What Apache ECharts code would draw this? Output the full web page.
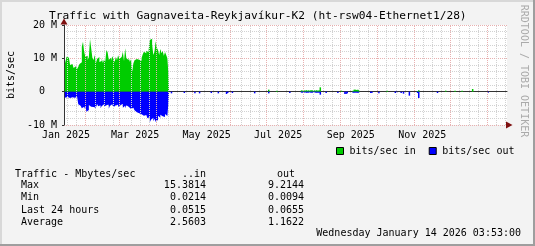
<!DOCTYPE html>
<html><head><meta charset="utf-8">
<script src="https://cdn.jsdelivr.net/npm/echarts@6/dist/echarts.min.js"></script>
<style>html,body{margin:0;padding:0;background:#f3f3f3}#c{width:535px;height:246px}</style>
</head><body><div id="c"></div><script>
const FONT = '"DejaVu Sans Mono", monospace';

// x unit: days since 2025-01-01
const denseStartDay = -1;
const inMbps = [8.3, 8.5, 10.5, 10.2, 9.8, 8.0, 8.3, 8.6, 7.1, 7.6, 8.0, 6.8, 7.5, 8.3, 8.8, 13.5,
  15.0, 12.0, 10.5, 10.8, 9.5, 10.3, 15.8, 13.0, 10.2, 9.5, 11.0, 8.5, 9.8, 10.4, 8.9,
  9.2, 10.0, 8.6, 9.7, 9.0, 12.5, 11.8, 9.6, 10.2, 9.3, 10.6, 9.8, 8.9, 10.4, 9.5, 10.9, 9.8,
  9.6, 10.4, 12.0, 9.2, 13.0, 10.0, 9.5, 10.2, 9.0, 9.7, 6.0, 8.5,
  9.4, 9.8, 9.2, 9.6, 9.9, 9.3, 10.1, 11.2, 12.0, 11.5, 12.3, 11.8, 12.6,
  15.5, 15.9, 14.2, 11.0, 12.0, 15.1, 13.2, 12.5, 11.0, 12.8, 11.5, 12.2, 10.8, 11.9, 11.0, 10.0, 5.0];
const outMbps = [-1.8, -2.0, -1.6, -2.2, -1.9, -2.0, -1.7, -1.5, -1.8, -2.1, -1.6, -1.9,
  -3.8, -4.2, -3.6, -5.0, -4.5,
  -5.2, -4.3, -6.0, -5.5, -4.0,
  -4.5, -3.9, -4.6, -4.0, -4.8, -4.2, -3.7, -4.4, -4.1, -5.0, -4.3, -3.8, -4.6, -4.0, -4.5, -3.9,
  -5.1, -4.2, -4.4, -3.8, -4.7, -4.1, -4.3, -3.9, -4.6, -4.0,
  -4.4, -3.7, -4.8, -4.2, -5.0, -4.1, -3.9, -4.5, -4.3, -5.2, -4.8,
  -5.0, -5.6, -6.2, -5.8, -6.5, -6.0,
  -6.8, -6.3, -7.2, -6.6, -7.0, -7.5,
  -8.0, -7.6, -9.2, -8.4, -7.8, -8.9, -8.1, -9.0, -8.5,
  -7.2, -7.8, -6.9, -7.4, -7.0, -7.6, -6.7, -7.3, -6.8, -3.0];
const sparseDay = [90, 101, 110, 114, 124, 130, 137, 138, 142, 161, 173, 180, 191,
  201, 202, 203, 204, 205, 206, 207, 208, 209, 210, 211, 212, 213, 214, 215, 216, 217,
  222, 232, 235, 238, 239, 240, 245, 246, 247, 248, 249, 250, 260, 261, 267, 274,
  281, 282, 286, 288, 293, 300, 301, 317, 324, 332, 338, 347, 360];
const sparseIn = [0, 0, 0, 0, 0, 0, 0, 0, 0, 0, 0.6, 0.3, 0,
  0.4, 0.3, 0.4, 0.3, 0.4, 0.3, 0.4, 0.3, 0.4, 0.4, 0.3, 0.4, 0.3, 0.4, 0.3, 0.4, 1.3,
  0, 0, 0.3, 0, 0, 0, 0.3, 0.6, 0.6, 0.5, 0.6, 0.5, 0, 0, 0, 0.3,
  0, 0, 0, 0, 0, 0.2, 0.4, 0, 0.3, 0.3, 0.3, 0.8, 0];
const sparseOut = [-0.5, -0.4, -0.5, -0.5, -0.4, -0.5, -0.7, -0.4, -0.4, -0.5, -0.5, 0, -0.4,
  -0.3, -0.3, -0.3, -0.2, -0.3, -0.3, -0.3, -0.2, -0.3, -0.3, -0.3, -0.2, -0.3, -0.3, -0.3, -0.3, -0.9,
  -0.4, -0.4, 0, -0.7, -0.7, -0.5, -0.3, -0.3, -0.3, -0.3, -0.3, -0.3, -0.4, -0.4, -0.5, 0,
  -0.4, -0.4, -0.4, -0.6, -1.2, -0.4, -1.9, -0.4, 0, 0, 0, 0, -0.4];

const xMinDay = -1.7, xMaxDay = 376.3;
const xLabelDays = [0, 59, 120, 181, 243, 304];
const xLabels = ['Jan 2025', 'Mar 2025', 'May 2025', 'Jul 2025', 'Sep 2025', 'Nov 2025'];
const majorGridDays = [16.8, 45.5, 76.8, 108.1, 139.9, 171.2, 202.5, 234.4, 265.6, 297.4, 328.1, 359.3];
const yTickValues = [-10, 0, 10, 20];
const yTickLabels = ['-10 M', '0', '10 M', '20 M'];

const statNames = ['Max', 'Min', 'Last 24 hours', 'Average'];
const statIn = ['15.3814', '0.0214', '0.0515', '2.5603'];
const statOut = ['9.2144', '0.0094', '0.0655', '1.1622'];

const GREEN = '#00cc00', BLUE = '#0000ff';

// build series data
const inDense = inMbps.map((v, i) => [denseStartDay + i, v]);
const outDense = outMbps.map((v, i) => [denseStartDay + i, v]);
const inSparse = [], outSparse = [];
sparseDay.forEach((d, i) => {
  if (sparseIn[i] !== 0) inSparse.push([d, sparseIn[i]]);
  if (sparseOut[i] !== 0) outSparse.push([d, sparseOut[i]]);
});

// vertical grid
const minorStep = (majorGridDays[majorGridDays.length - 1] - majorGridDays[0]) / (majorGridDays.length - 1) / 4;
const minorGridDays = [];
for (let d = majorGridDays[0] - minorStep * 2; d < xMaxDay; d += minorStep) {
  if (d > xMinDay + 0.5 && !majorGridDays.some(m => Math.abs(m - d) < minorStep / 2)) minorGridDays.push(d);
}
const gridLineData = minorGridDays.map(d => ({ xAxis: d, lineStyle: { color: '#d2d2d2', type: [1, 1], width: 1 } }))
  .concat(majorGridDays.map(d => ({ xAxis: d, lineStyle: { color: '#e8b0b0', type: [1, 1], width: 1 } })));

const chart = echarts.init(document.getElementById('c'), null, { renderer: 'canvas' });

const tableEls = [];
tableEls.push({ type: 'text', x: 15, y: 174, style: { text: 'Traffic - Mbytes/sec', font: '10px ' + FONT, fill: '#000', verticalAlign: 'middle' } });
tableEls.push({ type: 'text', x: 206, y: 174, style: { text: '..in', font: '10px ' + FONT, fill: '#000', align: 'right', verticalAlign: 'middle' } });
tableEls.push({ type: 'text', x: 295, y: 174, style: { text: 'out', font: '10px ' + FONT, fill: '#000', align: 'right', verticalAlign: 'middle' } });
const rowY = [185.7, 197.7, 210, 222];
statNames.forEach((n, i) => {
  tableEls.push({ type: 'text', x: 21, y: rowY[i], style: { text: n, font: '10px ' + FONT, fill: '#000', verticalAlign: 'middle' } });
  tableEls.push({ type: 'text', x: 206, y: rowY[i], style: { text: statIn[i], font: '10px ' + FONT, fill: '#000', align: 'right', verticalAlign: 'middle' } });
  tableEls.push({ type: 'text', x: 304, y: rowY[i], style: { text: statOut[i], font: '10px ' + FONT, fill: '#000', align: 'right', verticalAlign: 'middle' } });
});

const stepArea = (name, data, color) => ({
  name, type: 'line', data, step: 'middle', showSymbol: false, symbol: 'none', z: 3, silent: true,
  color, itemStyle: { color },
  lineStyle: { width: 0, opacity: 0 },
  areaStyle: { color, opacity: 1, origin: 0 }
});
const sparseBars = (name, data, color) => ({
  name, type: 'bar', data, barWidth: 1.5, barGap: '-100%', color,
  itemStyle: { color }, z: 3, silent: true
});

chart.setOption({
  animation: false,
  backgroundColor: '#f3f3f3',
  title: {
    text: 'Traffic with Gagnaveita-Reykjavíkur-K2 (ht-rsw04-Ethernet1/28)',
    left: 49, top: 10, padding: 0,
    textStyle: { fontFamily: FONT, fontSize: 11.2, fontWeight: 'normal', color: '#000', lineHeight: 13 }
  },
  legend: {
    data: [{ name: 'bits/sec in', itemStyle: { color: GREEN } }, { name: 'bits/sec out', itemStyle: { color: BLUE } }],
    left: 336, top: 146, padding: 0,
    icon: 'rect', itemWidth: 7, itemHeight: 7, itemGap: 13,
    itemStyle: { borderColor: '#000', borderWidth: 1 },
    textStyle: { fontFamily: FONT, fontSize: 10, color: '#000', padding: [0, 0, 0, 1] },
    selectedMode: false
  },
  grid: { left: 64, top: 25, width: 443, height: 100, show: true, backgroundColor: '#ffffff', borderWidth: 0, containLabel: false },
  xAxis: [{
    type: 'value', min: xMinDay, max: xMaxDay,
    axisLine: { show: true, lineStyle: { color: '#333333', width: 1 } },
    axisTick: { show: false },
    splitLine: { show: false },
    axisLabel: {
      customValues: xLabelDays,
      formatter: v => { const i = xLabelDays.findIndex(d => Math.abs(d - v) < 0.01); return i >= 0 ? xLabels[i] : ''; },
      fontFamily: FONT, fontSize: 10, color: '#000', margin: 5
    }
  }],
  yAxis: [{
    type: 'value', min: -10, max: 20, interval: 2,
    axisLine: { show: false }, axisTick: { show: false }, axisLabel: { show: false },
    splitLine: { show: true, lineStyle: { color: '#d2d2d2', type: [1, 1], width: 1 } }
  }, {
    type: 'value', min: -10, max: 20, interval: 10, position: 'left', offset: 0,
    axisLine: { show: true, lineStyle: { color: '#333333', width: 1 } },
    axisTick: { show: true, length: 2, lineStyle: { color: '#333333' } },
    splitLine: { show: true, lineStyle: { color: '#e8b0b0', type: [1, 1], width: 1 } },
    axisLabel: {
      fontFamily: FONT, fontSize: 10, color: '#000', margin: 7,
      formatter: v => { const i = yTickValues.indexOf(v); const t = i >= 0 ? yTickLabels[i] : ''; return t.indexOf(' M') < 0 ? t + '  ' : t; }
    }
  }],
  series: [{
    name: 'grid', type: 'line', data: [], z: 1, silent: true,
    markLine: { silent: true, symbol: 'none', label: { show: false }, animation: false, data: gridLineData }
  },
    stepArea('bits/sec in', inDense, GREEN),
    stepArea('bits/sec out', outDense, BLUE),
    sparseBars('bits/sec in', inSparse, GREEN),
    sparseBars('bits/sec out', outSparse, BLUE)
  ],
  graphic: { elements: [
    { type: 'rect', shape: { x: 0, y: 0, width: 535, height: 2 }, style: { fill: '#d8d8d8' }, silent: true },
    { type: 'rect', shape: { x: 0, y: 0, width: 2, height: 246 }, style: { fill: '#d8d8d8' }, silent: true },
    { type: 'rect', shape: { x: 0, y: 244, width: 535, height: 2 }, style: { fill: '#9e9e9e' }, silent: true },
    { type: 'rect', shape: { x: 533, y: 0, width: 2, height: 246 }, style: { fill: '#9e9e9e' }, silent: true },
    { type: 'polygon', shape: { points: [[506, 121.5], [512.5, 125], [506, 128.5]] }, style: { fill: '#7f1010' }, silent: true, z: 10 },
    { type: 'polygon', shape: { points: [[60.5, 24.5], [64, 18.5], [67.5, 24.5]] }, style: { fill: '#7f1010' }, silent: true, z: 10 },
    { type: 'text', x: 11, y: 75, rotation: Math.PI / 2, style: { text: 'bits/sec', font: '10px ' + FONT, fill: '#000', align: 'center', verticalAlign: 'middle' } },
    { type: 'text', x: 524, y: 71, rotation: -Math.PI / 2, style: { text: 'RRDTOOL / TOBI OETIKER', font: '10px ' + FONT, fill: '#aaaaaa', align: 'center', verticalAlign: 'middle' } },
    { type: 'text', x: 521, y: 233, style: { text: 'Wednesday January 14 2026 03:53:00', font: '10px ' + FONT, fill: '#000', align: 'right', verticalAlign: 'middle' } }
  ].concat(tableEls) }
});
</script></body></html>
